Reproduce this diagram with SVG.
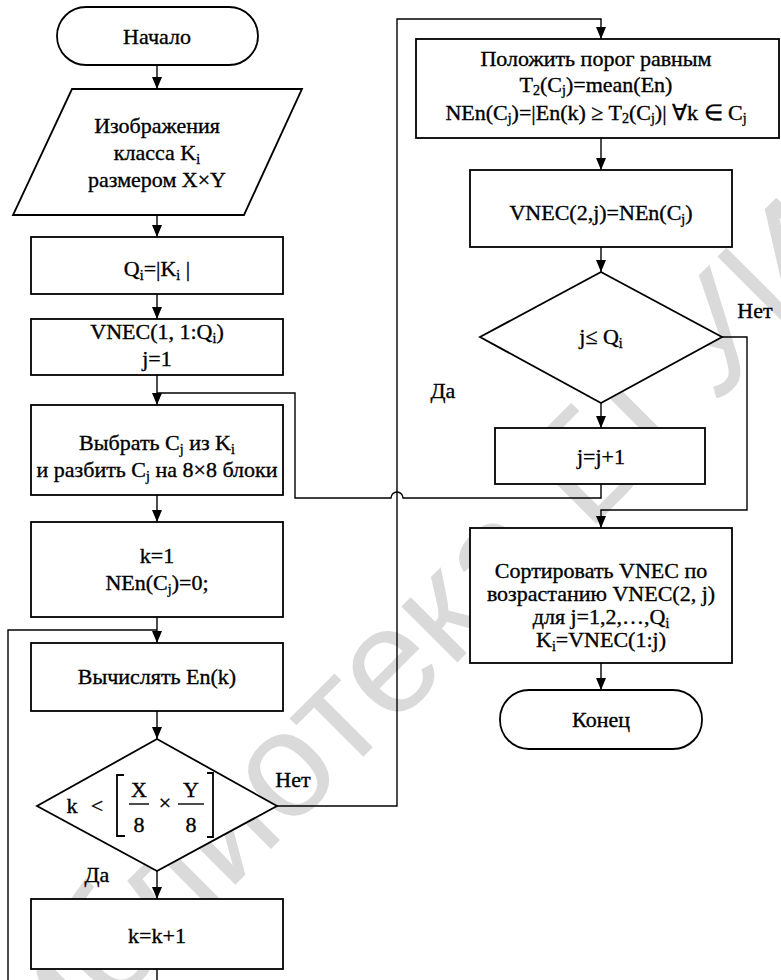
<svg xmlns="http://www.w3.org/2000/svg" width="781" height="980" viewBox="0 0 781 980">
<defs>
<style>
.bg{fill:#fff}
.box{fill:#fff;stroke:#000;stroke-width:1.8}
.ln{fill:none;stroke:#000;stroke-width:1.4}
.t{font-family:"Liberation Serif","Times New Roman",serif;font-size:22px;fill:#000;stroke:#000;stroke-width:0.35;text-anchor:middle}
.s{font-size:14px}
.wm{font-family:"Liberation Sans",Arial,sans-serif;font-size:150px;fill:#dadada;text-anchor:middle}
</style>
<marker id="arr" viewBox="0 0 12 10" refX="12" refY="5" markerWidth="12" markerHeight="10" orient="auto" markerUnits="userSpaceOnUse">
<path d="M0,0 L12,5 L0,10 z" fill="#000"/>
</marker>
</defs>
<rect class="bg" x="0" y="0" width="781" height="980"/>
<g id="watermark">
<text class="wm" transform="translate(455,665) rotate(-45)">Библиотека БГУИР</text>
</g>
<g id="connectors">
<path class="ln" d="M157,65 V89" marker-end="url(#arr)"/>
<path class="ln" d="M157,215 V237" marker-end="url(#arr)"/>
<path class="ln" d="M157,294 V319" marker-end="url(#arr)"/>
<path class="ln" d="M157,375 V405" marker-end="url(#arr)"/>
<path class="ln" d="M157,495 V522" marker-end="url(#arr)"/>
<path class="ln" d="M157,617 V643" marker-end="url(#arr)"/>
<path class="ln" d="M157,711 V739" marker-end="url(#arr)"/>
<path class="ln" d="M157,871 V899" marker-end="url(#arr)"/>
<path class="ln" d="M157,969 V985"/>
<path class="ln" d="M8,985 V630 H157"/>
<path class="ln" d="M277,806 H397 V19 H601 V39" marker-end="url(#arr)"/>
<path class="ln" d="M601,138 V170" marker-end="url(#arr)"/>
<path class="ln" d="M601,247 V272" marker-end="url(#arr)"/>
<path class="ln" d="M601,403 V428" marker-end="url(#arr)"/>
<path class="ln" d="M601,484 V498 H403 A6,6 0 0 0 391,498 H295 V393 H157"/>
<path class="ln" d="M722,337 H747 V510 H601 V528" marker-end="url(#arr)"/>
<path class="ln" d="M601,663 V690" marker-end="url(#arr)"/>
<text class="t" x="293" y="787">Нет</text>
<text class="t" x="97" y="882">Да</text>
<text class="t" x="755" y="318">Нет</text>
<text class="t" x="443" y="398">Да</text>
</g>
<g id="start">
<rect class="box" x="57" y="7" width="201" height="58" rx="29" ry="29"/>
<text class="t" x="157" y="44">Начало</text>
</g>
<g id="input">
<polygon class="box" points="72,89 302,89 244,215 13,215"/>
<text class="t" x="157" y="133">Изображения</text>
<text class="t" x="157" y="160">класса K<tspan class="s" dy="4">i</tspan></text>
<text class="t" x="157" y="187">размером X×Y</text>
</g>
<g id="qi">
<rect class="box" x="31" y="237" width="252" height="57"/>
<text class="t" x="157" y="276">Q<tspan class="s" dy="4">i</tspan><tspan dy="-4">=|K</tspan><tspan class="s" dy="4">i</tspan><tspan dy="-4"> |</tspan></text>
</g>
<g id="vnec1">
<rect class="box" x="31" y="319" width="252" height="56"/>
<text class="t" x="157" y="339">VNEC(1, 1:Q<tspan class="s" dy="4">i</tspan><tspan dy="-4">)</tspan></text>
<text class="t" x="157" y="366">j=1</text>
</g>
<g id="select">
<rect class="box" x="31" y="405" width="252" height="90"/>
<text class="t" x="157" y="450">Выбрать C<tspan class="s" dy="4">j</tspan><tspan dy="-4"> из K</tspan><tspan class="s" dy="4">i</tspan></text>
<text class="t" x="157" y="477">и разбить C<tspan class="s" dy="4">j</tspan><tspan dy="-4"> на 8×8 блоки</tspan></text>
</g>
<g id="init">
<rect class="box" x="31" y="522" width="252" height="95"/>
<text class="t" x="157" y="563">k=1</text>
<text class="t" x="157" y="590">NEn(C<tspan class="s" dy="4">j</tspan><tspan dy="-4">)=0;</tspan></text>
</g>
<g id="compute">
<rect class="box" x="31" y="643" width="252" height="68"/>
<text class="t" x="157" y="684">Вычислять En(k)</text>
</g>
<g id="cond1">
<polygon class="box" points="157,739 277,806 157,871 37,806"/>
<text class="t" x="72" y="813">k</text>
<text class="t" x="97" y="813">&lt;</text>
<path class="ln" d="M124,775 H117 V836 H125" style="stroke-width:1.8"/>
<path class="ln" d="M207,773 H213 V837 H207" style="stroke-width:1.8"/>
<text class="t" x="139" y="797">X</text>
<text class="t" x="139" y="832">8</text>
<path class="ln" d="M129,804 H149"/>
<text class="t" x="165" y="810">×</text>
<text class="t" x="191" y="797">Y</text>
<text class="t" x="191" y="832">8</text>
<path class="ln" d="M178,804 H204"/>
</g>
<g id="inc_k">
<rect class="box" x="31" y="899" width="252" height="70"/>
<text class="t" x="157" y="943">k=k+1</text>
</g>
<g id="threshold">
<rect class="box" x="416" y="39" width="363" height="99"/>
<text class="t" x="596" y="66">Положить порог равным</text>
<text class="t" x="596" y="92">T<tspan class="s" dy="3">2</tspan><tspan dy="-3">(C</tspan><tspan class="s" dy="3">j</tspan><tspan dy="-3">)=mean(En)</tspan></text>
<text class="t" x="596" y="120">NEn(C<tspan class="s" dy="3">j</tspan><tspan dy="-3">)=|En(k) ≥ T</tspan><tspan class="s" dy="3">2</tspan><tspan dy="-3">(C</tspan><tspan class="s" dy="3">j</tspan><tspan dy="-3">)| ∀k ∈ C</tspan><tspan class="s" dy="3">j</tspan></text>
</g>
<g id="vnec2">
<rect class="box" x="470" y="170" width="262" height="77"/>
<text class="t" x="601" y="220">VNEC(2,j)=NEn(C<tspan class="s" dy="4">j</tspan><tspan dy="-4">)</tspan></text>
</g>
<g id="cond2">
<polygon class="box" points="601,272 722,337 601,403 480,337"/>
<text class="t" x="601" y="344">j≤ Q<tspan class="s" dy="4">i</tspan></text>
</g>
<g id="inc_j">
<rect class="box" x="495" y="428" width="210" height="56"/>
<text class="t" x="601" y="464">j=j+1</text>
</g>
<g id="sort">
<rect class="box" x="470" y="528" width="262" height="135"/>
<text class="t" x="601" y="578">Сортировать VNEC по</text>
<text class="t" x="601" y="601">возрастанию VNEC(2, j)</text>
<text class="t" x="601" y="624">для j=1,2,…,Q<tspan class="s" dy="4">i</tspan></text>
<text class="t" x="601" y="647">K<tspan class="s" dy="4">i</tspan><tspan dy="-4">=VNEC(1:j)</tspan></text>
</g>
<g id="end">
<rect class="box" x="500" y="690" width="202" height="59" rx="29" ry="29"/>
<text class="t" x="601" y="727">Конец</text>
</g>
</svg>
